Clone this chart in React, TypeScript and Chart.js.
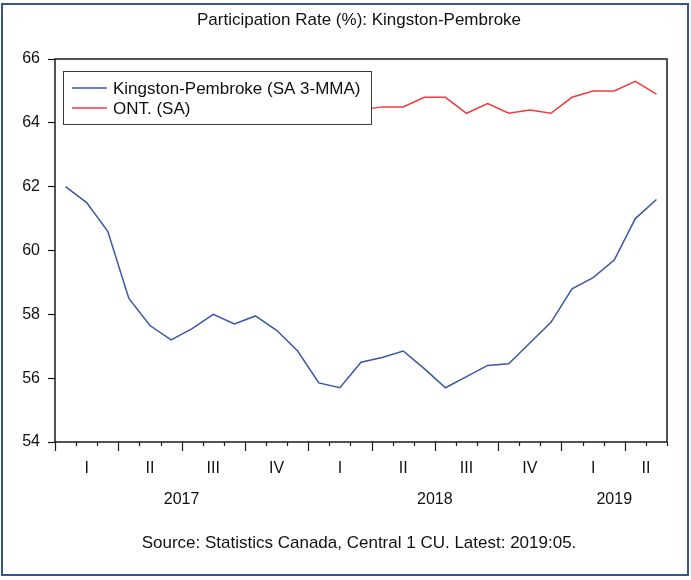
import React, { useEffect, useRef } from "react";
import { Chart, registerables } from "chart.js";

Chart.register(...registerables);

const TITLE = "Participation Rate (%): Kingston-Pembroke";
const SOURCE = "Source: Statistics Canada, Central 1 CU. Latest: 2019:05.";

// Monthly observations, 2017:01 .. 2019:05
const months: string[] = [
  "2017-01","2017-02","2017-03","2017-04","2017-05","2017-06","2017-07","2017-08","2017-09","2017-10","2017-11","2017-12",
  "2018-01","2018-02","2018-03","2018-04","2018-05","2018-06","2018-07","2018-08","2018-09","2018-10","2018-11","2018-12",
  "2019-01","2019-02","2019-03","2019-04","2019-05",
];

const kingston: number[] = [
  62.0, 61.5, 60.6, 58.5, 57.65, 57.2, 57.55, 58.0, 57.7, 57.95, 57.5, 56.85,
  55.85, 55.7, 56.5, 56.65, 56.85, 56.3, 55.7, 56.05, 56.4, 56.45, 57.1, 57.75,
  58.8, 59.15, 59.7, 61.0, 61.6,
];

const ontario: number[] = [
  64.8, 64.7, 64.8, 64.9, 64.7, 64.8, 64.7, 64.6, 64.7, 64.8, 64.7, 64.6,
  64.7, 64.5, 64.4, 64.5, 64.5, 64.8, 64.8, 64.3, 64.6, 64.3, 64.4, 64.3,
  64.8, 65.0, 65.0, 65.3, 64.9,
];

const seriesNames: string[] = ["Kingston-Pembroke (SA 3-MMA)", "ONT. (SA)"];
const seriesColors: string[] = ["#3a56a8", "#f23a3a"];

const quarterLabels: string[] = ["I", "II", "III", "IV", "I", "II", "III", "IV", "I", "II"];
const yearLabels: string[] = ["2017", "2018", "2019"];

const yTicks: number[] = [54, 56, 58, 60, 62, 64, 66];

const FONT = "'Liberation Sans', Arial, sans-serif";

export default function App() {
  const ref = useRef<HTMLCanvasElement | null>(null);

  useEffect(() => {
    document.body.style.margin = "0";
    const canvas = ref.current;
    if (!canvas) return;

    const n = months.length;
    // quarter centres (in month units), clipped to available data
    const quarterPos: number[] = quarterLabels.map((_, q) => {
      const s = q * 3;
      const e = Math.min(n, s + 3);
      return (s + e) / 2;
    });
    const yearPos: number[] = yearLabels.map((_, y) => {
      const s = y * 12;
      const e = Math.min(n, s + 12);
      return (s + e) / 2;
    });

    const framePlugin = {
      id: "framePlugin",
      beforeDraw(chart: any) {
        const ctx = chart.ctx;
        ctx.save();
        ctx.fillStyle = "#ffffff";
        ctx.fillRect(0, 0, chart.width, chart.height);
        ctx.restore();
      },
      afterDatasetsDraw(chart: any) {
        const ctx = chart.ctx;
        const ca = chart.chartArea;
        const xs = chart.scales.x;
        ctx.save();
        // legend box
        const lx = ca.left + 8, ly = ca.top + 12, lw = 308, lh = 53;
        ctx.fillStyle = "#ffffff";
        ctx.fillRect(lx, ly, lw, lh);
        ctx.strokeStyle = "#3a3a3a";
        ctx.lineWidth = 1;
        ctx.strokeRect(lx + 0.5, ly + 0.5, lw, lh);
        ctx.font = `17px ${FONT}`;
        ctx.textBaseline = "middle";
        ctx.textAlign = "left";
        seriesNames.forEach((name, i) => {
          const yy = ly + 17 + i * 20;
          ctx.strokeStyle = seriesColors[i];
          ctx.lineWidth = 1.5;
          ctx.beginPath();
          ctx.moveTo(lx + 9, yy);
          ctx.lineTo(lx + 44, yy);
          ctx.stroke();
          ctx.fillStyle = "#111111";
          ctx.fillText(name, lx + 50, yy + 1);
        });
        // plot box
        ctx.strokeStyle = "#1a1a1a";
        ctx.lineWidth = 1.5;
        ctx.strokeRect(ca.left, ca.top, ca.right - ca.left, ca.bottom - ca.top);
        // month tick marks below the axis
        ctx.lineWidth = 1.2;
        for (let i = 0; i <= n; i++) {
          const px = Math.round(xs.getPixelForValue(i)) + 0.5;
          ctx.beginPath();
          ctx.moveTo(px, ca.bottom);
          ctx.lineTo(px, ca.bottom + (i % 3 === 0 ? 9 : 4));
          ctx.stroke();
        }
        ctx.restore();
      },
      afterDraw(chart: any) {
        const ctx = chart.ctx;
        ctx.save();
        ctx.fillStyle = "#111111";
        ctx.font = `17px ${FONT}`;
        ctx.textAlign = "center";
        ctx.textBaseline = "middle";
        ctx.fillText(TITLE, 359, 20);
        ctx.fillText(SOURCE, 359, 543);
        ctx.strokeStyle = "#34558f";
        ctx.lineWidth = 2;
        ctx.strokeRect(2, 4, 686, 571);
        ctx.restore();
      },
    };

    const chart = new Chart(canvas, {
      type: "line",
      data: {
        datasets: [
          {
            label: seriesNames[0],
            data: kingston.map((v, i) => ({ x: i + 0.5, y: v })),
            borderColor: seriesColors[0],
            borderWidth: 1.5,
            pointRadius: 0,
            tension: 0,
            xAxisID: "x",
          },
          {
            label: seriesNames[1],
            data: ontario.map((v, i) => ({ x: i + 0.5, y: v })),
            borderColor: seriesColors[1],
            borderWidth: 1.5,
            pointRadius: 0,
            tension: 0,
            xAxisID: "x",
          },
        ],
      },
      plugins: [framePlugin],
      options: {
        responsive: false,
        animation: false,
        events: [],
        layout: { padding: { left: 0, right: 24, top: 59, bottom: 0 } },
        plugins: {
          legend: { display: false },
          title: { display: false },
          tooltip: { enabled: false },
        },
        scales: {
          x: {
            type: "linear",
            position: "bottom",
            min: 0,
            max: n,
            grid: { display: false },
            border: { display: false },
            afterFit: (s: any) => { s.height = 38; },
            afterBuildTicks: (s: any) => {
              s.ticks = quarterPos.map((v) => ({ value: v }));
            },
            ticks: {
              autoSkip: false,
              maxRotation: 0,
              padding: 9,
              color: "#111111",
              font: { family: FONT, size: 16 },
              callback: (_v: any, i: number) => quarterLabels[i],
            },
          },
          x2: {
            type: "linear",
            position: "bottom",
            min: 0,
            max: n,
            grid: { display: false },
            border: { display: false },
            afterFit: (s: any) => { s.height = 100; },
            afterBuildTicks: (s: any) => {
              s.ticks = yearPos.map((v) => ({ value: v }));
            },
            ticks: {
              autoSkip: false,
              maxRotation: 0,
              padding: 2,
              color: "#111111",
              font: { family: FONT, size: 16 },
              callback: (_v: any, i: number) => yearLabels[i],
            },
          },
          y: {
            type: "linear",
            min: 54,
            max: 66,
            afterFit: (s: any) => { s.width = 55; },
            afterBuildTicks: (s: any) => {
              s.ticks = yTicks.map((v) => ({ value: v }));
            },
            grid: {
              drawOnChartArea: false,
              drawTicks: true,
              tickLength: 7,
              tickColor: "#1a1a1a",
              tickWidth: 1.2,
            },
            border: { display: false },
            ticks: {
              padding: 8,
              color: "#111111",
              font: { family: FONT, size: 16 },
              callback: (v: any) => String(v),
            },
          },
        },
      },
    } as any);

    return () => chart.destroy();
  }, []);

  return (
    <div style={{ width: 691, height: 580 }}>
      <canvas ref={ref} width={691} height={580} style={{ display: "block", width: 691, height: 580 }} />
    </div>
  );
}
